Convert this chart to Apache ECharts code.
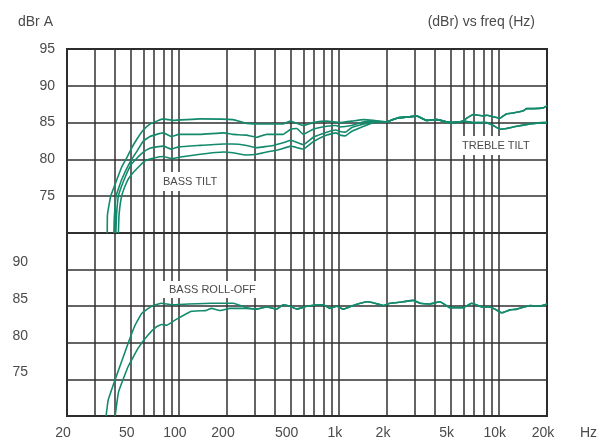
<!DOCTYPE html>
<html>
<head>
<meta charset="utf-8">
<script src="https://cdn.jsdelivr.net/npm/echarts@6/dist/echarts.min.js"></script>
<style>
  html, body { margin: 0; padding: 0; background: #fff; }
  #chart { width: 598px; height: 446px; }
</style>
</head>
<body>
<div id="chart"></div>
<script>
// ---- Axis ticks ----
const tickFreqs = [20,30,40,50,60,70,80,90,100,200,300,400,500,600,700,800,900,1000,2000,3000,4000,5000,6000,7000,8000,9000,10000,20000];
const labelFreqs = [20,50,100,200,500,1000,2000,5000,10000,20000];
const topYLabels = [75,80,85,90,95];
const bottomYLabels = [75,80,85,90];

// ---- Top panel: bass tilt curves (low end to ~1.6 kHz) ----
const tiltAFreq = [35.7,35.8,37.5,40.9,44,47.5,50,54.5,60,66,72.7,80,92,136,218,265,354,448,495,600,692,840,1016,1200,1430,1640];
const tiltA     = [70,72.5,75,77.2,79,80.3,81.3,82.7,84,84.8,85.2,85.5,85.3,85.5,85.4,84.9,84.8,84.8,85.2,84.6,85.0,85.2,85.0,85.2,85.4,85.3];
const tiltBFreq = [39.3,39.5,40.5,44,50,55,60,66,72.7,80,90,100,136,190,218,265,307,354,448,500,546,600,692,840,960,1016,1200,1430,1640];
const tiltB     = [70,72,75,77.3,79.8,81.2,82.5,83.1,83.4,83.6,83.1,83.4,83.4,83.6,83.4,83.3,83.0,83.4,83.4,84.1,84.2,83.4,84.1,84.5,84.6,84.4,84.6,85.1,85.2];
const tiltCFreq = [40.4,40.8,41.9,45,50,54.8,60,66,72.7,80,90,100,136,190,218,265,307,389,470,500,600,692,840,960,1016,1100,1200,1430,1640];
const tiltC     = [70,72.5,75,77,79.2,80.2,81.0,81.5,81.7,81.8,81.4,81.7,81.9,82.1,82.1,81.9,81.6,81.9,82.4,82.6,82.0,83.0,83.7,84.0,83.8,83.7,84.3,84.8,85.1];
const tiltDFreq = [41.9,42.3,43.9,47,50,55,61.5,70,80,90,100,136,190,218,265,307,354,420,500,600,692,840,960,1016,1100,1200,1430,1640];
const tiltD     = [70,72.5,75,76.8,77.8,78.8,79.8,80.2,80.4,80.1,80.3,80.7,81.0,80.9,80.6,80.7,81.0,81.3,81.8,81.4,82.4,83.3,83.6,83.3,83.2,83.8,84.5,85.0];

// ---- Top panel: shared mid band and treble tilt ----
const topSharedFreq = [1992,2300,2786,3069,3541,4092,4952,5716,6000];
const topShared     = [85.1,85.6,85.8,85.9,85.3,85.4,85.0,85.1,85.2];
const trebleUpFreq  = [6300,6925,8000,8400,9230,10160,11200,12300,14230,14940,16420,18960,20000];
const trebleUp      = [85.6,86.1,85.9,86.0,85.8,85.6,86.2,86.3,86.6,86.9,86.9,87.0,87.3];
const trebleFlatFreq = [6925,8400,9230,10160,11200,12940,15660,18960,20000];
const trebleFlat     = [85.0,85.0,84.6,84.1,84.2,84.5,84.8,85.0,85.0];

// ---- Bottom panel: bass roll-off ----
const rollAFreq = [35.1,36.2,40,44,48.3,53,58.6,67.6,78,90,115,160,219,265,307];
const rollA     = [70,72.2,75,77.5,80,82.3,84.0,85.0,85.4,85.2,85.3,85.4,85.4,84.8,84.6];
const rollBFreq = [40,42,48.3,55.8,64.4,72.7,78,84,94.6,120,146,160,181,209,265,307];
const rollB     = [70,73.3,76.8,79.3,81.1,82.2,82.5,82.4,83.1,84.3,84.4,84.7,84.4,84.7,84.7,84.6];
const rollSharedFreq = [354,409,450,495,546,630,800,880,970,1067,1230,1494,1682,1897,2088,2530,2920,3216,3711,4285,4952,6000,6760,7820,8800,9460,10420,11740,12940,15660,18070,20000];
const rollShared     = [84.9,84.6,85.2,85.0,84.6,85.0,85.2,84.7,85.0,84.6,85.1,85.6,85.4,85.1,85.4,85.6,85.8,85.4,85.3,85.6,84.8,84.8,85.4,84.9,84.9,84.6,84.1,84.5,84.6,85.1,85.0,85.3];

function pairs(fr, vals) { return fr.map((f, i) => [f, vals[i]]); }
function join() {
  let out = [];
  for (let i = 0; i < arguments.length; i += 2) out = out.concat(pairs(arguments[i], arguments[i + 1]));
  return out;
}

const CURVE = '#138a6c';
const GRIDC = '#303030';
const TXT = '#4a4a4a';
const FONT = 'Liberation Sans';

function freqLabel(v) {
  const r = Math.round(v);
  return r >= 1000 ? (r / 1000) + 'k' : String(r);
}

function makeX(idx, showLabels) {
  return {
    type: 'log', logBase: 10, gridIndex: idx, min: 20, max: 20000,
    axisLine: { show: false },
    axisTick: { show: false, customValues: tickFreqs },
    axisLabel: {
      show: showLabels, customValues: labelFreqs, formatter: freqLabel,
      color: TXT, fontFamily: FONT, fontSize: 14, margin: 10, padding: [0, 8, 0, 0]
    },
    splitLine: { show: true, lineStyle: { color: GRIDC, width: 1.5 } },
    minorSplitLine: { show: false },
    name: showLabels ? 'Hz' : '',
    nameLocation: 'end', nameGap: 33,
    nameTextStyle: { color: TXT, fontFamily: FONT, fontSize: 14, verticalAlign: 'top', padding: [10, 0, 0, 0] }
  };
}

function makeY(idx, labels, margin, vAlign) {
  return {
    type: 'value', gridIndex: idx, min: 70, max: 95, interval: 5,
    axisLine: { show: false },
    axisTick: { show: false },
    axisLabel: {
      color: TXT, fontFamily: FONT, fontSize: 14, margin: margin, verticalAlign: vAlign,
      formatter: v => labels.indexOf(v) >= 0 ? String(v) : ''
    },
    splitLine: { show: true, lineStyle: { color: GRIDC, width: 1.5 } }
  };
}

function line(name, xi, data) {
  return {
    name: name, type: 'line', xAxisIndex: xi, yAxisIndex: xi,
    data: data, showSymbol: false, smooth: 0.1, silent: true,
    lineStyle: { color: CURVE, width: 1.6 }, itemStyle: { color: CURVE }
  };
}

const chart = echarts.init(document.getElementById('chart'), null, { renderer: 'canvas' });
chart.setOption({
  animation: false,
  backgroundColor: '#ffffff',
  title: [
    { text: 'dBr A', left: 13, top: 10, textStyle: { color: TXT, fontFamily: FONT, fontSize: 14, fontWeight: 'normal' } },
    { text: '(dBr) vs freq (Hz)', right: 58, top: 10, textStyle: { color: TXT, fontFamily: FONT, fontSize: 14, fontWeight: 'normal' } }
  ],
  grid: [
    { left: 67, top: 49, width: 480, height: 184, show: true, borderColor: '#222', borderWidth: 2, outerBoundsMode: 'none' },
    { left: 67, top: 233, width: 480, height: 183, show: true, borderColor: '#222', borderWidth: 2, outerBoundsMode: 'none' }
  ],
  xAxis: [makeX(0, false), makeX(1, true)],
  yAxis: [makeY(0, topYLabels, 12, 'middle'), makeY(1, bottomYLabels, 39, 'bottom')],
  series: [
    line('tilt A', 0, join(tiltAFreq, tiltA, topSharedFreq, topShared, trebleUpFreq, trebleUp)),
    line('tilt B', 0, join(tiltBFreq, tiltB, topSharedFreq, topShared, trebleUpFreq, trebleUp)),
    line('tilt C', 0, join(tiltCFreq, tiltC, topSharedFreq, topShared, trebleFlatFreq, trebleFlat)),
    line('tilt D', 0, join(tiltDFreq, tiltD, topSharedFreq, topShared, trebleFlatFreq, trebleFlat)),
    line('roll A', 1, join(rollAFreq, rollA, rollSharedFreq, rollShared)),
    line('roll B', 1, join(rollBFreq, rollB, rollSharedFreq, rollShared))
  ],
  graphic: [
    { type: 'text', left: 160, top: 172, z: 100,
      style: { text: 'BASS TILT', font: '11px "Liberation Sans"', fill: TXT, backgroundColor: '#fff', padding: [4, 4, 4, 3] } },
    { type: 'text', left: 458, top: 136, z: 100,
      style: { text: 'TREBLE TILT', font: '11px "Liberation Sans"', fill: TXT, backgroundColor: '#fff', padding: [4, 9, 4, 4] } },
    { type: 'text', left: 163, top: 281, z: 100,
      style: { text: 'BASS ROLL-OFF', font: '11px "Liberation Sans"', fill: TXT, backgroundColor: '#fff', padding: [3, 4, 3, 6] } }
  ]
});
</script>
</body>
</html>
